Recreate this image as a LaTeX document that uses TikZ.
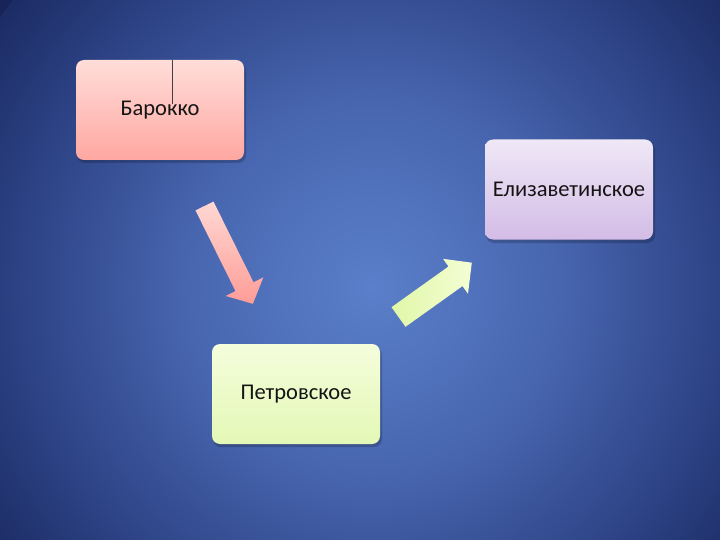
\documentclass[tikz,border=0pt]{standalone}
\usepackage{fontspec}
\setmainfont{Carlito}
\definecolor{bgc}{HTML}{5B7FCA}
\definecolor{bgm}{HTML}{4866B0}
\definecolor{bgo}{HTML}{2A3F80}
\definecolor{bge}{HTML}{16245A}
\pgfdeclareradialshading{bgshade}{\pgfpoint{0bp}{0bp}}{color(0bp)=(bgc); color(10bp)=(bgm); color(20bp)=(bgo); color(27bp)=(bge); color(50bp)=(bge)}
\begin{document}
\begin{tikzpicture}[x=1pt,y=-1pt,
  box/.style={rounded corners=8pt, minimum width=168pt, minimum height=100pt,
    inner sep=0pt, font=\fontsize{22.5}{26}\selectfont, text=black!92},
  shadowbox/.style={fill=black, opacity=0.2, rounded corners=8pt}]
\definecolor{pinkT}{HTML}{FFDDD9}
\definecolor{pinkB}{HTML}{FFA7A1}
\definecolor{lilT}{HTML}{EFE8F6}
\definecolor{lilB}{HTML}{D3BCE6}
\definecolor{grnT}{HTML}{F5FDDC}
\definecolor{grnB}{HTML}{E3F8B6}
\definecolor{apT}{HTML}{FFD8D3}
\definecolor{apB}{HTML}{FF9C97}
\definecolor{agL}{HTML}{E0F8A8}
\definecolor{agR}{HTML}{F4FDD4}
\useasboundingbox (0,0) rectangle (720,540);
\begin{scope}
  \clip (0,0) rectangle (720,540);
  \fill[bge] (0,0) rectangle (720,540);
  \shade[shading=bgshade] (372,288) circle (460);
\end{scope}
% shadows
\fill[shadowbox] (77,63) rectangle (246,163);
\fill[shadowbox] (486,142) rectangle (655,243);
\fill[shadowbox] (213,347) rectangle (382,447);
% boxes
\node[box, top color=pinkT, bottom color=pinkB] (barokko) at (160,110) {Барокко};
\node[box, top color=lilT, bottom color=lilB] (eliz) at (569,189.5) {Елизаветинское};
\node[box, top color=grnT, bottom color=grnB] (petr) at (296,394) {Петровское};
% vertical mark in Барокко box
\coordinate (mtop) at (172,60);
\coordinate (mbot) at (172,104);
\draw[black!75, line width=0.8pt] (mtop) -- (mbot);
% arrows
\shade[top color=apT, bottom color=apB]
  (213.5,201.6) -- (253.5,282.3) -- (263.3,277.4) -- (252.9,303.8)
  -- (225.7,296.0) -- (235.5,291.1) -- (195.5,210.4) -- cycle;
\shade[left color=agL, right color=agR]
  (405.5,326.8) -- (462.5,286.1) -- (468.0,293.8) -- (471.8,262.7)
  -- (443.0,258.8) -- (448.5,266.5) -- (391.5,307.2) -- cycle;
\end{tikzpicture}
\end{document}
